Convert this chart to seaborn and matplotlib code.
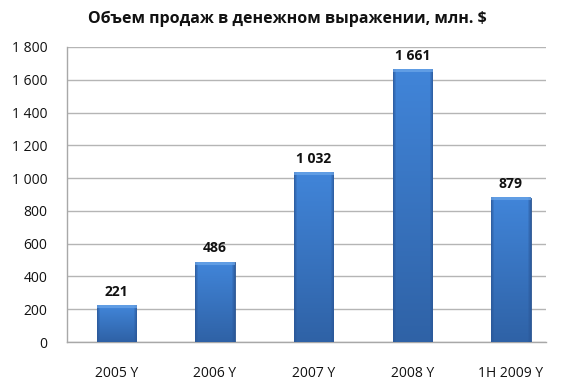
import numpy as np
import pandas as pd
import matplotlib
matplotlib.use("Agg")
import matplotlib.pyplot as plt
import seaborn as sns
from matplotlib.colors import to_rgb

categories = ["2005 Y", "2006 Y", "2007 Y", "2008 Y", "1H 2009 Y"]
values = [221, 486, 1032, 1661, 879]
y_ticks = [0, 200, 400, 600, 800, 1000, 1200, 1400, 1600, 1800]
title = "Объем продаж в денежном выражении, млн. $"

def fmt(v):
    return f"{int(v):,}".replace(",", " ")

sns.set_theme(style="white")
plt.rcParams["font.family"] = ["Open Sans", "DejaVu Sans"]

df = pd.DataFrame({"cat": categories, "val": values})

fig = plt.figure(figsize=(5.69, 3.83), dpi=100)
ax = fig.add_axes([67 / 569, 41 / 383, 479 / 569, 295 / 383])

sns.barplot(data=df, x="cat", y="val", color="#3b78c8", width=0.40,
            edgecolor="#2a5590", linewidth=0.6, ax=ax, zorder=3)

ax.set_ylim(0, 1800)
ax.set_xlim(-0.5, 4.355)
ax.set_yticks(y_ticks)
ax.set_yticklabels([fmt(t) for t in y_ticks])
ax.set_xlabel("")
ax.set_ylabel("")
ax.yaxis.grid(True, color="#b5b5b5", linewidth=1.0, zorder=0)
ax.set_axisbelow(True)
for s in ["top", "right"]:
    ax.spines[s].set_visible(False)
for s in ["left", "bottom"]:
    ax.spines[s].set_color("#a8a8a8")
    ax.spines[s].set_linewidth(1.0)
ax.tick_params(axis="both", length=0, labelsize=10, colors="#111111")
ax.tick_params(axis="y", pad=14)
ax.tick_params(axis="x", pad=17)

top_c = np.array(to_rgb("#4185d9"))
bot_c = np.array(to_rgb("#2f62a6"))
side_c = np.array(to_rgb("#2a5696"))
hi_c = np.array(to_rgb("#6ea8ea"))
px_per_unit = 295 / 1800
for p in list(ax.patches):
    x0, w, h = p.get_x(), p.get_width(), p.get_height()
    nrow = max(int(h * px_per_unit), 4)
    ncol = 40
    t = np.linspace(0, 1, nrow)[:, None, None]
    img = top_c * (1 - t) + bot_c * t
    img = np.repeat(img, ncol, axis=1)
    cols = np.arange(ncol)
    edge = np.minimum(cols, ncol - 1 - cols)
    side_w = np.clip(1 - edge / 3.0, 0, 1)[None, :, None] * 0.75
    img = img * (1 - side_w) + side_c * side_w
    img[:3, :, :] = img[:3, :, :] * 0.3 + hi_c * 0.7
    ax.imshow(np.clip(img, 0, 1), extent=(x0, x0 + w, 0, h), aspect="auto",
              zorder=3.5, interpolation="bilinear", origin="upper")
    ax.text(x0 + w / 2, h + 85, fmt(h), ha="center", va="center",
            fontsize=10, fontweight="bold", color="#111111", zorder=5)
ax.set_xlim(-0.5, 4.355)
ax.set_ylim(0, 1800)

fig.text(287.5 / 569, 1 - 19 / 383, title, ha="center", va="center",
         fontsize=11.5, fontweight="bold", color="#111111")

fig.savefig("out.png", dpi=100)
